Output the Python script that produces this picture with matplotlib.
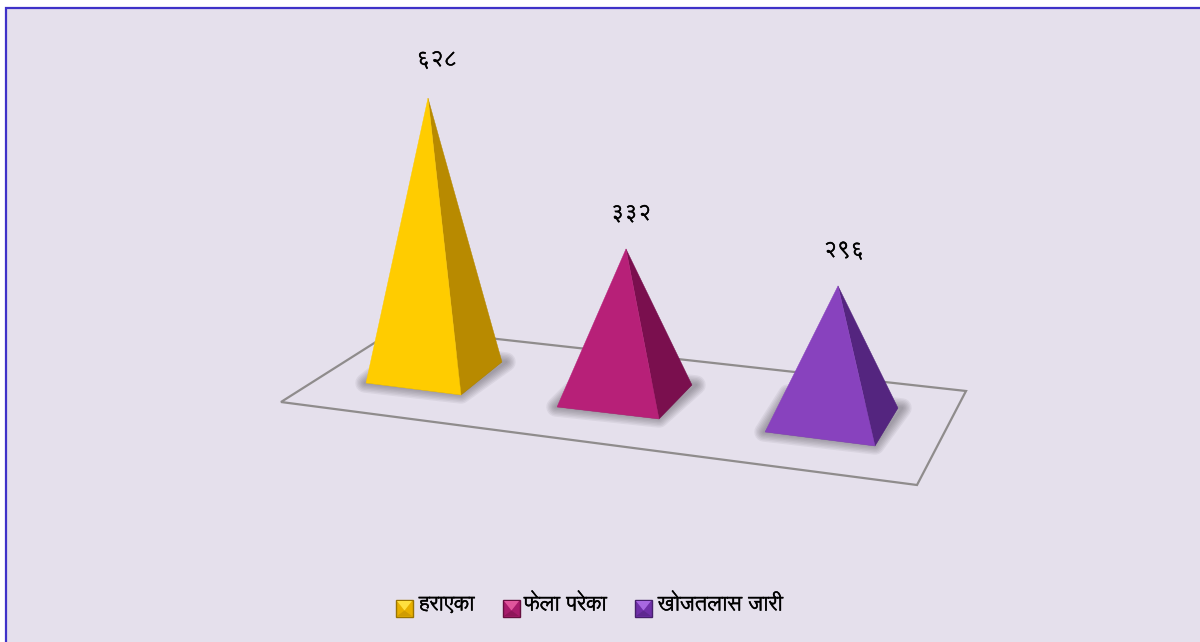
import matplotlib
matplotlib.use('Agg')
import matplotlib.pyplot as plt
import matplotlib.patheffects as pe
from matplotlib.patches import Polygon, Rectangle

categories = ['हराएका', 'फेला परेका', 'खोजतलास जारी']
values = [628, 332, 296]
value_labels = ['६२८', '३३२', '२९६']

front_colors = ['#FFCC00', '#B72078', '#8842BE']
side_colors = ['#B88A00', '#7A0F4E', '#54257F']
key_colors = ['#E8B000', '#A81C6C', '#7030A8']
light_colors = ['#FFE040', '#E0559C', '#A868E0']
lower_colors = ['#D09C00', '#8E1659', '#5E2890']
dark_colors = ['#9A7400', '#66103F', '#46206C']

font = ['Lohit Devanagari', 'Noto Sans Devanagari', 'DejaVu Sans']
bolder = [pe.withStroke(linewidth=0.35, foreground='black')]

# everything is laid out in the picture's pixels
fig = plt.figure(figsize=(12, 6.42), dpi=100, facecolor='white')
ax = fig.add_axes([0, 0, 1, 1])
ax.set_xlim(0, 1200)
ax.set_ylim(642, 0)
ax.axis('off')

# panel and its blue border
ax.add_patch(Rectangle((6, 8), 1300, 700, fc='#E5E0EC', ec='#3F32C8', lw=1.6, zorder=0))

# floor of the chart
floor = [(281, 402), (398, 328), (966, 391), (917, 485)]
ax.add_patch(Polygon(floor, closed=True, fill=False, ec='#8F8C8C', lw=1.6, zorder=1))

# corners of each base: front left, front right, back right
front_left = [(366, 383), (557, 407), (765, 432)]
front_right = [(461, 395), (659, 419), (875, 446)]
back_right = [(502, 362), (692, 385), (898, 408)]
apex_x = [428, 626, 838]
height_scale = [0.437, 0.443, 0.453]  # px per unit, grows with perspective
label_x = [437, 631, 844]
label_gap = [38, 35, 35]

for i, v in enumerate(values):
    fl, fr, br = front_left[i], front_right[i], back_right[i]
    bl = (fl[0] + br[0] - fr[0], fl[1] + br[1] - fr[1])
    centre_y = (fl[1] + br[1]) / 2
    apex = (apex_x[i], centre_y - v * height_scale[i])

    # soft shadow, built from stacked see-through outlines
    for lw in range(14, 0, -2):
        ax.add_patch(Polygon([(fl[0] - 1, fl[1]), (fr[0], fr[1] - 1), (br[0] + 4, br[1]), bl], closed=True,
                             fc='none', ec='#4F4C54', alpha=0.08, lw=lw, joinstyle='round', zorder=2))
    ax.add_patch(Polygon([fl, fr, br, bl], closed=True, fc='#6A676E', ec='none', zorder=2))

    ax.add_patch(Polygon([fr, br, apex], closed=True, fc=side_colors[i], ec=side_colors[i], lw=0.3, zorder=3))
    ax.add_patch(Polygon([fl, fr, apex], closed=True, fc=front_colors[i], ec=front_colors[i], lw=0.3, zorder=4))

    ax.text(label_x[i], apex[1] - label_gap[i], value_labels[i], family=font, fontsize=15,
            color='black', ha='center', va='center', zorder=5, path_effects=bolder)

# legend with small pyramid keys seen from above
key_x = [396, 503, 635]
text_x = [419, 524, 658]
key_y = 600
key_size = 17

for i, name in enumerate(categories):
    x0, x1 = key_x[i], key_x[i] + key_size
    y0, y1 = key_y, key_y + key_size
    mid = (x0 + key_size / 2, y0 + key_size * 0.62)
    ax.add_patch(Polygon([(x0, y0), (x1, y0), (x1, y1), (x0, y1)], closed=True, fc=key_colors[i],
                         ec=dark_colors[i], lw=1, zorder=5))
    ax.add_patch(Polygon([(x0 + 1, y0 + 1), (x1 - 1, y0 + 1), mid], closed=True, fc=light_colors[i], ec='none', zorder=6))
    ax.add_patch(Polygon([(x0 + 1, y1 - 1), (x1 - 1, y1 - 1), mid], closed=True, fc=lower_colors[i], ec='none', zorder=6))
    ax.text(text_x[i], 605, name, family=font, fontsize=15, color='black', ha='left', va='center', zorder=6,
            path_effects=bolder)

fig.savefig('out.png', dpi=100)
